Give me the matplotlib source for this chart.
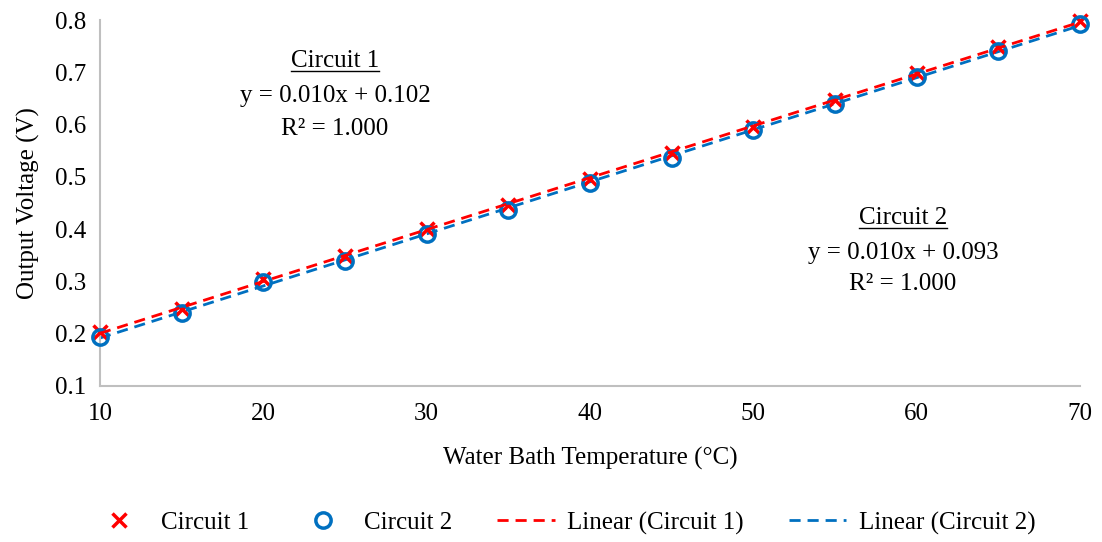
import numpy as np
import matplotlib.pyplot as plt
from matplotlib.lines import Line2D

# Data
temps = [10, 15, 20, 25, 30, 35, 40, 45, 50, 55, 60, 65, 70]
circuit1 = [0.203, 0.248, 0.305, 0.348, 0.400, 0.446, 0.496, 0.545, 0.596, 0.647, 0.698, 0.748, 0.798]
circuit2 = [0.194, 0.240, 0.298, 0.339, 0.390, 0.437, 0.488, 0.537, 0.589, 0.640, 0.691, 0.741, 0.792]
yticks = [0.1, 0.2, 0.3, 0.4, 0.5, 0.6, 0.7, 0.8]
xticks = [10, 20, 30, 40, 50, 60, 70]

red = '#FF0000'
blue = '#0070C0'

plt.rcParams['font.family'] = ['Liberation Serif', 'DejaVu Serif']
plt.rcParams['font.size'] = 18

fig = plt.figure(figsize=(11.02, 5.42), dpi=100)
ax = fig.add_axes([0.0907, 0.288, 0.8893, 0.675])

x = np.array(temps)
ax.plot(x, circuit1, linestyle='none', marker='x', ms=10, mew=2.5, color=red,
        label='Circuit 1', clip_on=False, zorder=3)
ax.plot(x, circuit2, linestyle='none', marker='o', ms=11, mew=2.5, mfc='none',
        color=blue, label='Circuit 2', clip_on=False, zorder=3)

# trendlines
p1 = np.polyfit(x, circuit1, 1)
p2 = np.polyfit(x, circuit2, 1)
ax.plot(x, np.polyval(p1, x), '--', color=red, lw=2, dashes=(4, 2.5),
        label='Linear (Circuit 1)', zorder=4)
ax.plot(x, np.polyval(p2, x), '--', color=blue, lw=2, dashes=(4, 2.5),
        label='Linear (Circuit 2)', zorder=2)

ax.set_xlim(10, 70)
ax.set_ylim(0.1, 0.8)
ax.set_xticks(xticks)
ax.set_yticks(yticks)
ax.set_yticklabels([f'{v:.1f}' for v in yticks])
ax.tick_params(length=0)
ax.tick_params(axis='x', pad=12)
ax.tick_params(axis='y', pad=10)
for s in ['top', 'right']:
    ax.spines[s].set_visible(False)
for s in ['left', 'bottom']:
    ax.spines[s].set_color('#BFBFBF')
    ax.spines[s].set_linewidth(1.5)

ax.set_xlabel('Water Bath Temperature (°C)', labelpad=16)
ax.set_ylabel('Output Voltage (V)', labelpad=11)

# equation labels
t1 = fig.text(335 / 1102, 1 - 61 / 542, 'Circuit 1', ha='center', va='center')
fig.text(335 / 1102, 1 - 96 / 542, 'y = 0.010x + 0.102', ha='center', va='center')
fig.text(335 / 1102, 1 - 129 / 542, 'R² = 1.000', ha='center', va='center')
t2 = fig.text(903 / 1102, 1 - 218 / 542, 'Circuit 2', ha='center', va='center')
fig.text(903 / 1102, 1 - 253 / 542, 'y = 0.010x + 0.093', ha='center', va='center')
fig.text(903 / 1102, 1 - 284 / 542, 'R² = 1.000', ha='center', va='center')

fig.canvas.draw()
inv = fig.transFigure.inverted()
for t in (t1, t2):
    bb = t.get_window_extent().transformed(inv)
    y0 = bb.y0 + 0.002
    fig.add_artist(Line2D([bb.x0, bb.x1], [y0, y0], color='black', lw=1))

fig.legend(loc='center', bbox_to_anchor=(0.5 + 12 / 1102, 1 - 523 / 542), ncol=4, frameon=False,
           handlelength=2.3, columnspacing=1.8, handletextpad=0.5)

fig.savefig('out.png', dpi=100)
